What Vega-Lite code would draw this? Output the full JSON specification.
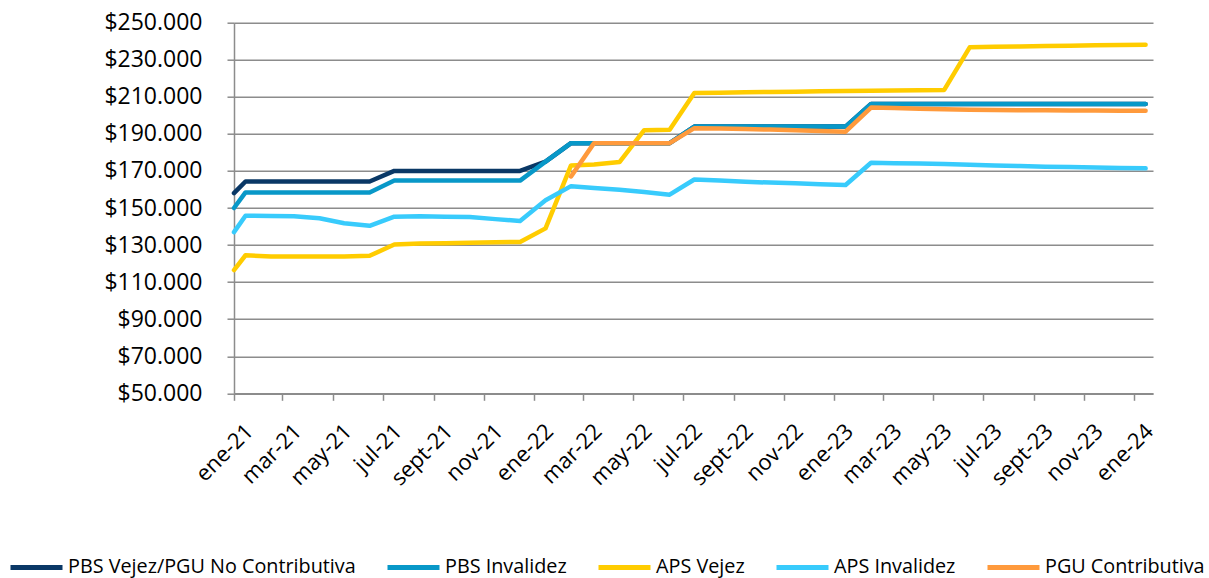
{
  "$schema": "https://vega.github.io/schema/vega-lite/v6.json",
  "autosize": {"type": "none"},
  "width": 919,
  "height": 370.6,
  "padding": {"left": 234, "top": 22.7, "right": 56, "bottom": 184.7},
  "background": "white",
  "config": {
    "view": {"stroke": null},
    "font": "Open Sans",
    "axis": {"labelColor": "#000000", "labelFont": "Open Sans"}
  },
  "datasets": {
    "pension": [
      {"fecha": "2021-01-01", "serie": "PBS Vejez/PGU No Contributiva", "monto": 158000},
      {"fecha": "2021-01-15", "serie": "PBS Vejez/PGU No Contributiva", "monto": 164300},
      {"fecha": "2021-02-15", "serie": "PBS Vejez/PGU No Contributiva", "monto": 164300},
      {"fecha": "2021-03-15", "serie": "PBS Vejez/PGU No Contributiva", "monto": 164300},
      {"fecha": "2021-04-15", "serie": "PBS Vejez/PGU No Contributiva", "monto": 164300},
      {"fecha": "2021-05-15", "serie": "PBS Vejez/PGU No Contributiva", "monto": 164300},
      {"fecha": "2021-06-15", "serie": "PBS Vejez/PGU No Contributiva", "monto": 164300},
      {"fecha": "2021-07-15", "serie": "PBS Vejez/PGU No Contributiva", "monto": 170000},
      {"fecha": "2021-08-15", "serie": "PBS Vejez/PGU No Contributiva", "monto": 170000},
      {"fecha": "2021-09-15", "serie": "PBS Vejez/PGU No Contributiva", "monto": 170000},
      {"fecha": "2021-10-15", "serie": "PBS Vejez/PGU No Contributiva", "monto": 170000},
      {"fecha": "2021-11-15", "serie": "PBS Vejez/PGU No Contributiva", "monto": 170000},
      {"fecha": "2021-12-15", "serie": "PBS Vejez/PGU No Contributiva", "monto": 170000},
      {"fecha": "2022-01-15", "serie": "PBS Vejez/PGU No Contributiva", "monto": 175000},
      {"fecha": "2022-02-15", "serie": "PBS Vejez/PGU No Contributiva", "monto": 185000},
      {"fecha": "2022-03-15", "serie": "PBS Vejez/PGU No Contributiva", "monto": 185000},
      {"fecha": "2022-04-15", "serie": "PBS Vejez/PGU No Contributiva", "monto": 185000},
      {"fecha": "2022-05-15", "serie": "PBS Vejez/PGU No Contributiva", "monto": 185000},
      {"fecha": "2022-06-15", "serie": "PBS Vejez/PGU No Contributiva", "monto": 185000},
      {"fecha": "2022-07-15", "serie": "PBS Vejez/PGU No Contributiva", "monto": 193917},
      {"fecha": "2022-08-15", "serie": "PBS Vejez/PGU No Contributiva", "monto": 193917},
      {"fecha": "2022-09-15", "serie": "PBS Vejez/PGU No Contributiva", "monto": 193917},
      {"fecha": "2022-10-15", "serie": "PBS Vejez/PGU No Contributiva", "monto": 193917},
      {"fecha": "2022-11-15", "serie": "PBS Vejez/PGU No Contributiva", "monto": 193917},
      {"fecha": "2022-12-15", "serie": "PBS Vejez/PGU No Contributiva", "monto": 193917},
      {"fecha": "2023-01-15", "serie": "PBS Vejez/PGU No Contributiva", "monto": 193917},
      {"fecha": "2023-02-15", "serie": "PBS Vejez/PGU No Contributiva", "monto": 206173},
      {"fecha": "2023-03-15", "serie": "PBS Vejez/PGU No Contributiva", "monto": 206173},
      {"fecha": "2023-04-15", "serie": "PBS Vejez/PGU No Contributiva", "monto": 206173},
      {"fecha": "2023-05-15", "serie": "PBS Vejez/PGU No Contributiva", "monto": 206173},
      {"fecha": "2023-06-15", "serie": "PBS Vejez/PGU No Contributiva", "monto": 206173},
      {"fecha": "2023-07-15", "serie": "PBS Vejez/PGU No Contributiva", "monto": 206173},
      {"fecha": "2023-08-15", "serie": "PBS Vejez/PGU No Contributiva", "monto": 206173},
      {"fecha": "2023-09-15", "serie": "PBS Vejez/PGU No Contributiva", "monto": 206173},
      {"fecha": "2023-10-15", "serie": "PBS Vejez/PGU No Contributiva", "monto": 206173},
      {"fecha": "2023-11-15", "serie": "PBS Vejez/PGU No Contributiva", "monto": 206173},
      {"fecha": "2023-12-15", "serie": "PBS Vejez/PGU No Contributiva", "monto": 206173},
      {"fecha": "2024-01-15", "serie": "PBS Vejez/PGU No Contributiva", "monto": 206173},

      {"fecha": "2021-01-01", "serie": "PBS Invalidez", "monto": 150000},
      {"fecha": "2021-01-15", "serie": "PBS Invalidez", "monto": 158400},
      {"fecha": "2021-02-15", "serie": "PBS Invalidez", "monto": 158400},
      {"fecha": "2021-03-15", "serie": "PBS Invalidez", "monto": 158400},
      {"fecha": "2021-04-15", "serie": "PBS Invalidez", "monto": 158400},
      {"fecha": "2021-05-15", "serie": "PBS Invalidez", "monto": 158400},
      {"fecha": "2021-06-15", "serie": "PBS Invalidez", "monto": 158400},
      {"fecha": "2021-07-15", "serie": "PBS Invalidez", "monto": 164800},
      {"fecha": "2021-08-15", "serie": "PBS Invalidez", "monto": 164800},
      {"fecha": "2021-09-15", "serie": "PBS Invalidez", "monto": 164800},
      {"fecha": "2021-10-15", "serie": "PBS Invalidez", "monto": 164800},
      {"fecha": "2021-11-15", "serie": "PBS Invalidez", "monto": 164800},
      {"fecha": "2021-12-15", "serie": "PBS Invalidez", "monto": 164800},
      {"fecha": "2022-01-15", "serie": "PBS Invalidez", "monto": 175000},
      {"fecha": "2022-02-15", "serie": "PBS Invalidez", "monto": 185000},
      {"fecha": "2022-03-15", "serie": "PBS Invalidez", "monto": 185000},
      {"fecha": "2022-04-15", "serie": "PBS Invalidez", "monto": 185000},
      {"fecha": "2022-05-15", "serie": "PBS Invalidez", "monto": 185000},
      {"fecha": "2022-06-15", "serie": "PBS Invalidez", "monto": 185000},
      {"fecha": "2022-07-15", "serie": "PBS Invalidez", "monto": 193917},
      {"fecha": "2022-08-15", "serie": "PBS Invalidez", "monto": 193917},
      {"fecha": "2022-09-15", "serie": "PBS Invalidez", "monto": 193917},
      {"fecha": "2022-10-15", "serie": "PBS Invalidez", "monto": 193917},
      {"fecha": "2022-11-15", "serie": "PBS Invalidez", "monto": 193917},
      {"fecha": "2022-12-15", "serie": "PBS Invalidez", "monto": 193917},
      {"fecha": "2023-01-15", "serie": "PBS Invalidez", "monto": 193917},
      {"fecha": "2023-02-15", "serie": "PBS Invalidez", "monto": 206173},
      {"fecha": "2023-03-15", "serie": "PBS Invalidez", "monto": 206173},
      {"fecha": "2023-04-15", "serie": "PBS Invalidez", "monto": 206173},
      {"fecha": "2023-05-15", "serie": "PBS Invalidez", "monto": 206173},
      {"fecha": "2023-06-15", "serie": "PBS Invalidez", "monto": 206173},
      {"fecha": "2023-07-15", "serie": "PBS Invalidez", "monto": 206173},
      {"fecha": "2023-08-15", "serie": "PBS Invalidez", "monto": 206173},
      {"fecha": "2023-09-15", "serie": "PBS Invalidez", "monto": 206173},
      {"fecha": "2023-10-15", "serie": "PBS Invalidez", "monto": 206173},
      {"fecha": "2023-11-15", "serie": "PBS Invalidez", "monto": 206173},
      {"fecha": "2023-12-15", "serie": "PBS Invalidez", "monto": 206173},
      {"fecha": "2024-01-15", "serie": "PBS Invalidez", "monto": 206173},

      {"fecha": "2021-01-01", "serie": "APS Vejez", "monto": 116500},
      {"fecha": "2021-01-15", "serie": "APS Vejez", "monto": 124500},
      {"fecha": "2021-02-15", "serie": "APS Vejez", "monto": 123800},
      {"fecha": "2021-03-15", "serie": "APS Vejez", "monto": 123800},
      {"fecha": "2021-04-15", "serie": "APS Vejez", "monto": 123800},
      {"fecha": "2021-05-15", "serie": "APS Vejez", "monto": 123800},
      {"fecha": "2021-06-15", "serie": "APS Vejez", "monto": 124200},
      {"fecha": "2021-07-15", "serie": "APS Vejez", "monto": 130300},
      {"fecha": "2021-08-15", "serie": "APS Vejez", "monto": 130800},
      {"fecha": "2021-09-15", "serie": "APS Vejez", "monto": 131000},
      {"fecha": "2021-10-15", "serie": "APS Vejez", "monto": 131200},
      {"fecha": "2021-11-15", "serie": "APS Vejez", "monto": 131500},
      {"fecha": "2021-12-15", "serie": "APS Vejez", "monto": 131700},
      {"fecha": "2022-01-15", "serie": "APS Vejez", "monto": 139000},
      {"fecha": "2022-02-15", "serie": "APS Vejez", "monto": 173000},
      {"fecha": "2022-03-15", "serie": "APS Vejez", "monto": 173500},
      {"fecha": "2022-04-15", "serie": "APS Vejez", "monto": 174800},
      {"fecha": "2022-05-15", "serie": "APS Vejez", "monto": 192000},
      {"fecha": "2022-06-15", "serie": "APS Vejez", "monto": 192200},
      {"fecha": "2022-07-15", "serie": "APS Vejez", "monto": 212000},
      {"fecha": "2022-08-15", "serie": "APS Vejez", "monto": 212200},
      {"fecha": "2022-09-15", "serie": "APS Vejez", "monto": 212400},
      {"fecha": "2022-10-15", "serie": "APS Vejez", "monto": 212600},
      {"fecha": "2022-11-15", "serie": "APS Vejez", "monto": 212800},
      {"fecha": "2022-12-15", "serie": "APS Vejez", "monto": 213000},
      {"fecha": "2023-01-15", "serie": "APS Vejez", "monto": 213200},
      {"fecha": "2023-02-15", "serie": "APS Vejez", "monto": 213300},
      {"fecha": "2023-03-15", "serie": "APS Vejez", "monto": 213400},
      {"fecha": "2023-04-15", "serie": "APS Vejez", "monto": 213500},
      {"fecha": "2023-05-15", "serie": "APS Vejez", "monto": 213700},
      {"fecha": "2023-06-15", "serie": "APS Vejez", "monto": 236700},
      {"fecha": "2023-07-15", "serie": "APS Vejez", "monto": 237000},
      {"fecha": "2023-08-15", "serie": "APS Vejez", "monto": 237200},
      {"fecha": "2023-09-15", "serie": "APS Vejez", "monto": 237400},
      {"fecha": "2023-10-15", "serie": "APS Vejez", "monto": 237600},
      {"fecha": "2023-11-15", "serie": "APS Vejez", "monto": 237800},
      {"fecha": "2023-12-15", "serie": "APS Vejez", "monto": 237900},
      {"fecha": "2024-01-15", "serie": "APS Vejez", "monto": 238100},

      {"fecha": "2021-01-01", "serie": "APS Invalidez", "monto": 137000},
      {"fecha": "2021-01-15", "serie": "APS Invalidez", "monto": 145800},
      {"fecha": "2021-02-15", "serie": "APS Invalidez", "monto": 145700},
      {"fecha": "2021-03-15", "serie": "APS Invalidez", "monto": 145600},
      {"fecha": "2021-04-15", "serie": "APS Invalidez", "monto": 144500},
      {"fecha": "2021-05-15", "serie": "APS Invalidez", "monto": 141800},
      {"fecha": "2021-06-15", "serie": "APS Invalidez", "monto": 140400},
      {"fecha": "2021-07-15", "serie": "APS Invalidez", "monto": 145300},
      {"fecha": "2021-08-15", "serie": "APS Invalidez", "monto": 145500},
      {"fecha": "2021-09-15", "serie": "APS Invalidez", "monto": 145300},
      {"fecha": "2021-10-15", "serie": "APS Invalidez", "monto": 145100},
      {"fecha": "2021-11-15", "serie": "APS Invalidez", "monto": 144000},
      {"fecha": "2021-12-15", "serie": "APS Invalidez", "monto": 143000},
      {"fecha": "2022-01-15", "serie": "APS Invalidez", "monto": 154200},
      {"fecha": "2022-02-15", "serie": "APS Invalidez", "monto": 161800},
      {"fecha": "2022-03-15", "serie": "APS Invalidez", "monto": 160800},
      {"fecha": "2022-04-15", "serie": "APS Invalidez", "monto": 159800},
      {"fecha": "2022-05-15", "serie": "APS Invalidez", "monto": 158600},
      {"fecha": "2022-06-15", "serie": "APS Invalidez", "monto": 157200},
      {"fecha": "2022-07-15", "serie": "APS Invalidez", "monto": 165400},
      {"fecha": "2022-08-15", "serie": "APS Invalidez", "monto": 164800},
      {"fecha": "2022-09-15", "serie": "APS Invalidez", "monto": 164200},
      {"fecha": "2022-10-15", "serie": "APS Invalidez", "monto": 163700},
      {"fecha": "2022-11-15", "serie": "APS Invalidez", "monto": 163300},
      {"fecha": "2022-12-15", "serie": "APS Invalidez", "monto": 162800},
      {"fecha": "2023-01-15", "serie": "APS Invalidez", "monto": 162400},
      {"fecha": "2023-02-15", "serie": "APS Invalidez", "monto": 174400},
      {"fecha": "2023-03-15", "serie": "APS Invalidez", "monto": 174200},
      {"fecha": "2023-04-15", "serie": "APS Invalidez", "monto": 174000},
      {"fecha": "2023-05-15", "serie": "APS Invalidez", "monto": 173800},
      {"fecha": "2023-06-15", "serie": "APS Invalidez", "monto": 173300},
      {"fecha": "2023-07-15", "serie": "APS Invalidez", "monto": 172900},
      {"fecha": "2023-08-15", "serie": "APS Invalidez", "monto": 172600},
      {"fecha": "2023-09-15", "serie": "APS Invalidez", "monto": 172300},
      {"fecha": "2023-10-15", "serie": "APS Invalidez", "monto": 172100},
      {"fecha": "2023-11-15", "serie": "APS Invalidez", "monto": 171800},
      {"fecha": "2023-12-15", "serie": "APS Invalidez", "monto": 171600},
      {"fecha": "2024-01-15", "serie": "APS Invalidez", "monto": 171400},

      {"fecha": "2022-02-15", "serie": "PGU Contributiva", "monto": 167000},
      {"fecha": "2022-03-15", "serie": "PGU Contributiva", "monto": 185000},
      {"fecha": "2022-04-15", "serie": "PGU Contributiva", "monto": 185000},
      {"fecha": "2022-05-15", "serie": "PGU Contributiva", "monto": 185000},
      {"fecha": "2022-06-15", "serie": "PGU Contributiva", "monto": 185000},
      {"fecha": "2022-07-15", "serie": "PGU Contributiva", "monto": 193100},
      {"fecha": "2022-08-15", "serie": "PGU Contributiva", "monto": 192900},
      {"fecha": "2022-09-15", "serie": "PGU Contributiva", "monto": 192600},
      {"fecha": "2022-10-15", "serie": "PGU Contributiva", "monto": 192300},
      {"fecha": "2022-11-15", "serie": "PGU Contributiva", "monto": 192000},
      {"fecha": "2022-12-15", "serie": "PGU Contributiva", "monto": 191600},
      {"fecha": "2023-01-15", "serie": "PGU Contributiva", "monto": 191200},
      {"fecha": "2023-02-15", "serie": "PGU Contributiva", "monto": 204200},
      {"fecha": "2023-03-15", "serie": "PGU Contributiva", "monto": 204000},
      {"fecha": "2023-04-15", "serie": "PGU Contributiva", "monto": 203600},
      {"fecha": "2023-05-15", "serie": "PGU Contributiva", "monto": 203300},
      {"fecha": "2023-06-15", "serie": "PGU Contributiva", "monto": 203000},
      {"fecha": "2023-07-15", "serie": "PGU Contributiva", "monto": 202900},
      {"fecha": "2023-08-15", "serie": "PGU Contributiva", "monto": 202800},
      {"fecha": "2023-09-15", "serie": "PGU Contributiva", "monto": 202700},
      {"fecha": "2023-10-15", "serie": "PGU Contributiva", "monto": 202600},
      {"fecha": "2023-11-15", "serie": "PGU Contributiva", "monto": 202600},
      {"fecha": "2023-12-15", "serie": "PGU Contributiva", "monto": 202500},
      {"fecha": "2024-01-15", "serie": "PGU Contributiva", "monto": 202500}
    ]
  },
  "data": {"name": "pension"},
  "mark": {"type": "line", "strokeWidth": 4.5, "strokeCap": "round", "strokeJoin": "round"},
  "encoding": {
    "x": {
      "field": "fecha",
      "type": "temporal",
      "scale": {
        "type": "utc",
        "domain": [
          {"year": 2021, "month": 1, "date": 1, "utc": true},
          {"year": 2024, "month": 1, "date": 24, "utc": true}
        ]
      },
      "axis": {
        "title": null,
        "grid": false,
        "values": [
          {"year": 2021, "month": 1, "date": 1, "utc": true},
          {"year": 2021, "month": 3, "date": 1, "utc": true},
          {"year": 2021, "month": 5, "date": 1, "utc": true},
          {"year": 2021, "month": 7, "date": 1, "utc": true},
          {"year": 2021, "month": 9, "date": 1, "utc": true},
          {"year": 2021, "month": 11, "date": 1, "utc": true},
          {"year": 2022, "month": 1, "date": 1, "utc": true},
          {"year": 2022, "month": 3, "date": 1, "utc": true},
          {"year": 2022, "month": 5, "date": 1, "utc": true},
          {"year": 2022, "month": 7, "date": 1, "utc": true},
          {"year": 2022, "month": 9, "date": 1, "utc": true},
          {"year": 2022, "month": 11, "date": 1, "utc": true},
          {"year": 2023, "month": 1, "date": 1, "utc": true},
          {"year": 2023, "month": 3, "date": 1, "utc": true},
          {"year": 2023, "month": 5, "date": 1, "utc": true},
          {"year": 2023, "month": 7, "date": 1, "utc": true},
          {"year": 2023, "month": 9, "date": 1, "utc": true},
          {"year": 2023, "month": 11, "date": 1, "utc": true},
          {"year": 2024, "month": 1, "date": 1, "utc": true}
        ],
        "labelExpr": "['ene','feb','mar','abr','may','jun','jul','ago','sept','oct','nov','dic'][utcmonth(datum.value)] + '-' + utcFormat(datum.value, '%y')",
        "labelAngle": -45,
        "labelAlign": "right",
        "labelBaseline": "top",
        "labelFontSize": 22,
        "labelPadding": 20,
        "labelOffset": 8,
        "labelOverlap": false,
        "labelBound": false,
        "labelFlush": false,
        "domainColor": "#8c8c8c",
        "domainWidth": 1.5,
        "tickColor": "#8c8c8c",
        "tickWidth": 1.5,
        "tickSize": 7
      }
    },
    "y": {
      "field": "monto",
      "type": "quantitative",
      "scale": {"domain": [50000, 250000], "nice": false, "zero": false},
      "axis": {
        "title": null,
        "values": [50000, 70000, 90000, 110000, 130000, 150000, 170000, 190000, 210000, 230000, 250000],
        "labelExpr": "'$' + replace(format(datum.value, ','), ',', '.')",
        "labelFontSize": 23,
        "labelPadding": 25,
        "labelOverlap": false,
        "labelFlush": false,
        "grid": true,
        "gridColor": "#8c8c8c",
        "gridWidth": 1.5,
        "domainColor": "#8c8c8c",
        "domainWidth": 1.5,
        "tickColor": "#8c8c8c",
        "tickWidth": 1.5,
        "tickSize": 7
      }
    },
    "color": {
      "field": "serie",
      "type": "nominal",
      "scale": {
        "domain": ["PBS Vejez/PGU No Contributiva", "PBS Invalidez", "APS Vejez", "APS Invalidez", "PGU Contributiva"],
        "range": ["#0a3866", "#0898c8", "#ffcc00", "#38cbfc", "#ff9a3c"]
      },
      "legend": {
        "title": null,
        "orient": "none",
        "direction": "horizontal",
        "legendX": -226,
        "legendY": 516,
        "padding": 0,
        "symbolType": "stroke",
        "symbolSize": 2704,
        "symbolStrokeWidth": 5,
        "labelFont": "Open Sans",
        "labelFontSize": 19.8,
        "labelColor": "#000000",
        "labelOffset": 3,
        "columnPadding": 21,
        "labelLimit": 400
      }
    }
  }
}
